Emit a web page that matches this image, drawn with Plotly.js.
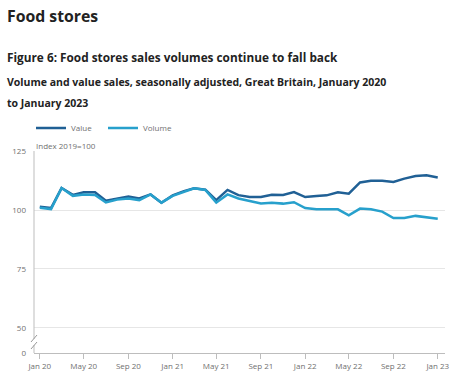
<!DOCTYPE html>
<html>
<head>
<meta charset="utf-8">
<script src="https://cdn.plot.ly/plotly-3.0.1.min.js"></script>
<style>html,body{margin:0;padding:0;background:#fff;}#chart{width:465px;height:381px;}</style>
</head>
<body>
<div id="chart"></div>
<script>
const months = [
 "2020-01","2020-02","2020-03","2020-04","2020-05","2020-06","2020-07","2020-08","2020-09","2020-10","2020-11","2020-12",
 "2021-01","2021-02","2021-03","2021-04","2021-05","2021-06","2021-07","2021-08","2021-09","2021-10","2021-11","2021-12",
 "2022-01","2022-02","2022-03","2022-04","2022-05","2022-06","2022-07","2022-08","2022-09","2022-10","2022-11","2022-12",
 "2023-01"];
const valueSeries = [
 101.4,100.8,109.3,106.4,107.5,107.5,103.9,104.9,105.7,104.9,106.6,103.1,
 106.2,108.0,109.2,108.6,104.2,108.5,106.3,105.5,105.5,106.5,106.4,107.6,
 105.5,105.9,106.2,107.5,106.9,111.7,112.4,112.4,111.9,113.3,114.4,114.7,
 113.8];
const volumeSeries = [
 101.0,100.4,109.3,106.0,106.6,106.4,103.2,104.4,104.9,104.2,106.6,103.1,
 106.0,107.8,109.2,108.5,103.1,106.6,104.9,103.8,102.8,103.1,102.7,103.3,
 100.8,100.3,100.4,100.3,97.7,100.6,100.3,99.3,96.6,96.6,97.5,96.9,
 96.3];
const tickDates = ["2020-01-01","2020-05-01","2020-09-01","2021-01-01","2021-05-01","2021-09-01","2022-01-01","2022-05-01","2022-09-01","2023-01-01"];
const tickLabels = ["Jan 20","May 20","Sep 20","Jan 21","May 21","Sep 21","Jan 22","May 22","Sep 22","Jan 23"];
const yTickVals = [39.4, 50, 75, 100, 125];
const yTickText = ["0","50","75","100","125"];

const W = 465, H = 381;
const M = {l:34, r:20, t:151, b:28};
const PW = W - M.l - M.r, PH = H - M.t - M.b;
const px = x => (x - M.l) / PW;
const py = y => (H - M.b - y) / PH;

const FONT = "'Open Sans', 'Noto Sans', sans-serif";
const grey = "#707070";
const axisGrey = "#bdbdbd";

const traces = [
 {x: months, y: valueSeries, name: "Value", type: "scatter", mode: "lines",
  line: {color: "#206095", width: 2.5}},
 {x: months, y: volumeSeries, name: "Volume", type: "scatter", mode: "lines",
  line: {color: "#27a0cc", width: 2.5}}
];

const layout = {
 width: W, height: H,
 margin: M,
 paper_bgcolor: "#fff", plot_bgcolor: "#fff",
 font: {family: FONT, color: grey, size: 8},
 showlegend: true,
 legend: {orientation: "h", x: px(31), y: py(128), xanchor: "left", yanchor: "middle",
  font: {size: 8, color: grey}, bgcolor: "rgba(0,0,0,0)", tracegroupgap: 0, itemwidth: 30,
  entrywidth: 27, entrywidthmode: "pixels"},
 xaxis: {type: "date", range: ["2019-12-16", "2023-01-21"], tickvals: tickDates, ticktext: tickLabels,
  showgrid: false, showline: true, linecolor: axisGrey, linewidth: 1, ticks: "outside", ticklen: 5,
  tickcolor: axisGrey, tickfont: {size: 8, color: grey}, zeroline: false, fixedrange: true},
 yaxis: {range: [39.4, 125], tickvals: yTickVals, ticktext: yTickText, showgrid: true,
  gridcolor: "#e6e6e6", gridwidth: 1, showline: false, zeroline: false, ticks: "",
  tickfont: {size: 8, color: grey}, ticklabelstandoff: 7, fixedrange: true},
 shapes: [
  {type: "line", xref: "paper", yref: "paper", x0: 0, x1: 0, y0: py(339), y1: 1, line: {color: axisGrey, width: 1}},
  {type: "line", xref: "paper", yref: "paper", x0: 0, x1: 0, y0: 0, y1: py(345), line: {color: axisGrey, width: 1}},
  {type: "line", xref: "paper", yref: "paper", x0: px(31), x1: px(37), y0: py(342), y1: py(335), line: {color: "#999", width: 1}},
  {type: "line", xref: "paper", yref: "paper", x0: px(31), x1: px(37), y0: py(349), y1: py(342), line: {color: "#999", width: 1}}
 ],
 annotations: [
  {text: "<b>Food stores</b>", xref: "paper", yref: "paper", x: px(5), y: py(16), xanchor: "left", yanchor: "middle",
   showarrow: false, font: {family: FONT, size: 15.8, color: "#222"}},
  {text: "<b>Figure 6: Food stores sales volumes continue to fall back</b>", xref: "paper", yref: "paper",
   x: px(5), y: py(57), xanchor: "left", yanchor: "middle", showarrow: false, font: {family: FONT, size: 11.8, color: "#222"}},
  {text: "<b>Volume and value sales, seasonally adjusted, Great Britain, January 2020</b>", xref: "paper", yref: "paper",
   x: px(5), y: py(82), xanchor: "left", yanchor: "middle", showarrow: false, font: {family: FONT, size: 10.5, color: "#222"}},
  {text: "<b>to January 2023</b>", xref: "paper", yref: "paper",
   x: px(5), y: py(103), xanchor: "left", yanchor: "middle", showarrow: false, font: {family: FONT, size: 10.5, color: "#222"}},
  {text: "Index 2019=100", xref: "paper", yref: "paper", x: px(34), y: py(145), xanchor: "left", yanchor: "middle",
   showarrow: false, font: {family: FONT, size: 8, color: grey}}
 ]
};

Plotly.newPlot("chart", traces, layout, {displayModeBar: false, staticPlot: true});
</script>
</body>
</html>
